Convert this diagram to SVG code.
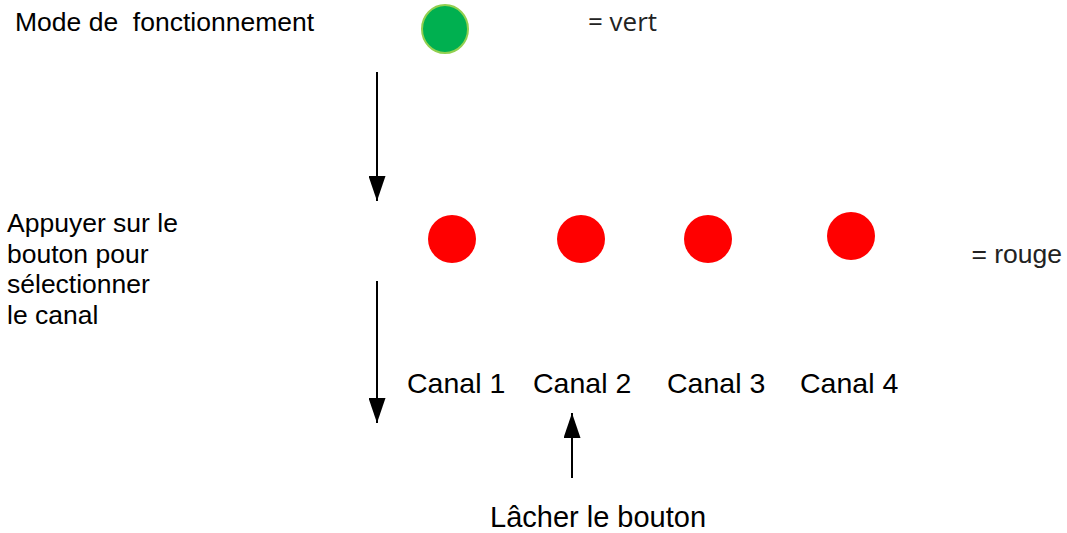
<svg xmlns="http://www.w3.org/2000/svg" width="1067" height="533" viewBox="0 0 1067 533">
<style>
.t{font-family:"Liberation Sans",Arial,sans-serif;fill:#000;white-space:pre}
.c{font-family:"Open Sans","Noto Sans",sans-serif;fill:#222}
.r{font-family:"Liberation Sans",Arial,sans-serif;fill:#222}
.red{fill:#ff0000}
.ln{stroke:#000;stroke-width:2;fill:none}
</style>
<defs>
<marker id="ah" markerWidth="25" markerHeight="17" refX="25" refY="8.5" orient="auto" markerUnits="userSpaceOnUse" viewBox="0 0 25 17">
<path d="M0,0 L25,8.5 L0,17 Z" fill="#000"/>
</marker>
</defs>
<rect width="1067" height="533" fill="#fff"/>
<g id="mode">
<text class="t" x="15" y="31" font-size="26.5" xml:space="preserve">Mode de  fonctionnement</text>
</g>
<g id="green">
<ellipse cx="445" cy="29" rx="23" ry="24" fill="#00b050" stroke="#92d050" stroke-width="2"/>
</g>
<g id="vert">
<text class="c" x="588" y="31" font-size="26">= vert</text>
</g>
<g id="appuyer">
<text class="t" font-size="26.5"><tspan x="7" y="232">Appuyer sur le</tspan><tspan x="7" y="263">bouton pour</tspan><tspan x="7" y="293">sélectionner</tspan><tspan x="7" y="324">le canal</tspan></text>
</g>
<g id="leds">
<circle class="red" cx="452" cy="239" r="24"/>
<circle class="red" cx="581" cy="239" r="24"/>
<circle class="red" cx="708" cy="239" r="24"/>
<circle class="red" cx="851" cy="236" r="24"/>
</g>
<g id="rouge">
<text class="r" x="1062" y="263" font-size="26.5" text-anchor="end">= rouge</text>
</g>
<g id="canaux">
<text class="t" x="407" y="393" font-size="28.5">Canal 1</text>
<text class="t" x="533" y="393" font-size="28.5">Canal 2</text>
<text class="t" x="667" y="393" font-size="28.5">Canal 3</text>
<text class="t" x="800" y="393" font-size="28.5">Canal 4</text>
</g>
<g id="lacher">
<text class="t" x="490" y="527" font-size="29">Lâcher le bouton</text>
</g>
<g id="connectors">
<line class="ln" x1="377" y1="72" x2="377" y2="201" marker-end="url(#ah)"/>
<line class="ln" x1="377" y1="281" x2="377" y2="423" marker-end="url(#ah)"/>
<line class="ln" x1="572" y1="478" x2="572" y2="413" marker-end="url(#ah)"/>
</g>
</svg>
